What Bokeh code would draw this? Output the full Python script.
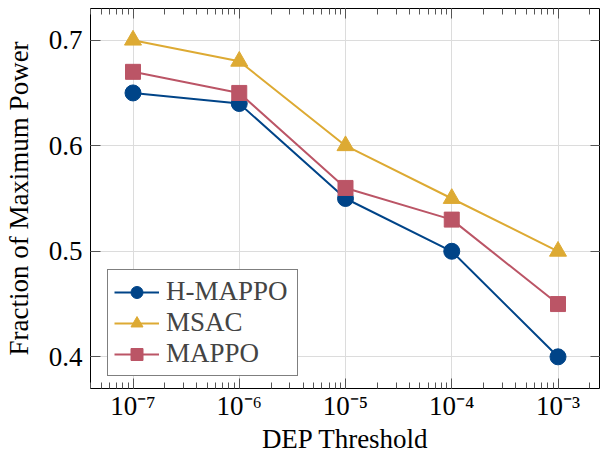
from bokeh.plotting import figure
from bokeh.models import FixedTicker, CustomJSTickFormatter, LogAxis, LinearAxis, Legend, LegendItem, Range1d
from bokeh.embed import file_html
from bokeh.resources import INLINE

thresholds = [1e-7, 1e-6, 1e-5, 1e-4, 1e-3]
h_mappo = [0.65, 0.64, 0.55, 0.50, 0.40]
msac = [0.70, 0.68, 0.60, 0.55, 0.50]
mappo = [0.67, 0.65, 0.56, 0.53, 0.45]
y_ticks = [0.4, 0.5, 0.6, 0.7]

BLUE = "#004488"
GOLD = "#DDAA33"
RED = "#BB5566"
FONT = "Liberation Serif"

p = figure(width=600, height=457, x_axis_type="log",
           x_range=Range1d(10**-7.4, 10**-2.6), y_range=Range1d(0.37, 0.73),
           output_backend="svg", toolbar_location=None,
           min_border_left=90, min_border_right=0, min_border_top=8, min_border_bottom=69)

minor = [k * 10.0**e for e in range(-8, -2) for k in range(2, 10)]
xticker = FixedTicker(ticks=thresholds, minor_ticks=minor)
yticker = FixedTicker(ticks=y_ticks)

fmt = CustomJSTickFormatter(code="""
const sup = {'-':'\u207B','0':'\u2070','1':'\u00B9','2':'\u00B2','3':'\u00B3','4':'\u2074','5':'\u2075','6':'\u2076','7':'\u2077','8':'\u2078','9':'\u2079'};
const e = Math.round(Math.log10(tick)).toString();
let s = '10';
for (const c of e) s += sup[c];
return s;
""")
blank = CustomJSTickFormatter(code="return '';")

TICKC = "#555555"

xa = p.xaxis[0]
xa.ticker = xticker
xa.formatter = fmt
xa.axis_label = "DEP Threshold"
ya = p.yaxis[0]
ya.ticker = yticker
ya.axis_label = "Fraction of Maximum Power"

for ax in (xa, ya):
    ax.axis_line_color = None
    ax.major_tick_in = 10
    ax.major_tick_out = 0
    ax.minor_tick_in = 6
    ax.minor_tick_out = 0
    ax.major_tick_line_color = TICKC
    ax.minor_tick_line_color = TICKC
    ax.major_label_text_font = FONT
    ax.major_label_text_font_size = "27px"
    ax.major_label_text_color = "black"
    ax.axis_label_text_font = FONT
    ax.axis_label_text_font_size = "27px"
    ax.axis_label_text_font_style = "normal"
    ax.axis_label_text_color = "black"
ya.minor_tick_in = 0
xa.major_label_standoff = 2
xa.axis_label_standoff = 0
ya.major_label_standoff = 8
ya.axis_label_standoff = 12

top = LogAxis(ticker=xticker, formatter=blank, major_label_standoff=0,
              axis_line_color=None, major_tick_in=10, major_tick_out=0,
              minor_tick_in=6, minor_tick_out=0,
              major_tick_line_color=TICKC, minor_tick_line_color=TICKC)
right = LinearAxis(ticker=yticker, formatter=blank, major_label_standoff=0,
                   axis_line_color=None, major_tick_in=10, major_tick_out=0,
                   minor_tick_in=0, minor_tick_out=0, major_tick_line_color=TICKC)
p.add_layout(top, "above")
p.add_layout(right, "right")

p.xgrid.ticker = xticker
p.ygrid.ticker = yticker
p.xgrid.grid_line_color = "#dcdcdc"
p.ygrid.grid_line_color = "#dcdcdc"
p.xgrid.minor_grid_line_color = None
p.outline_line_color = "black"
p.outline_line_width = 1

l1 = p.line(thresholds, h_mappo, line_color=BLUE, line_width=2)
m1 = p.scatter(thresholds, h_mappo, marker="circle", size=16, fill_color=BLUE, line_color=BLUE)
l2 = p.line(thresholds, msac, line_color=GOLD, line_width=2)
m2 = p.scatter(thresholds, msac, marker="triangle", size=17, fill_color=GOLD, line_color=GOLD)
l3 = p.line(thresholds, mappo, line_color=RED, line_width=2)
m3 = p.scatter(thresholds, mappo, marker="square", size=15, fill_color=RED, line_color=RED)

legend = Legend(items=[LegendItem(label="H-MAPPO", renderers=[l1, m1]),
                       LegendItem(label="MSAC", renderers=[l2, m2]),
                       LegendItem(label="MAPPO", renderers=[l3, m3])],
                location=(17, 12), label_text_font=FONT, label_text_font_size="27px",
                glyph_width=45, glyph_height=30, label_height=30, label_width=125,
                label_standoff=7, spacing=0, padding=6, margin=0,
                border_line_color="black", border_line_width=1, background_fill_alpha=1)
p.add_layout(legend, "center")

open("out.html", "w").write(file_html(p, INLINE))
